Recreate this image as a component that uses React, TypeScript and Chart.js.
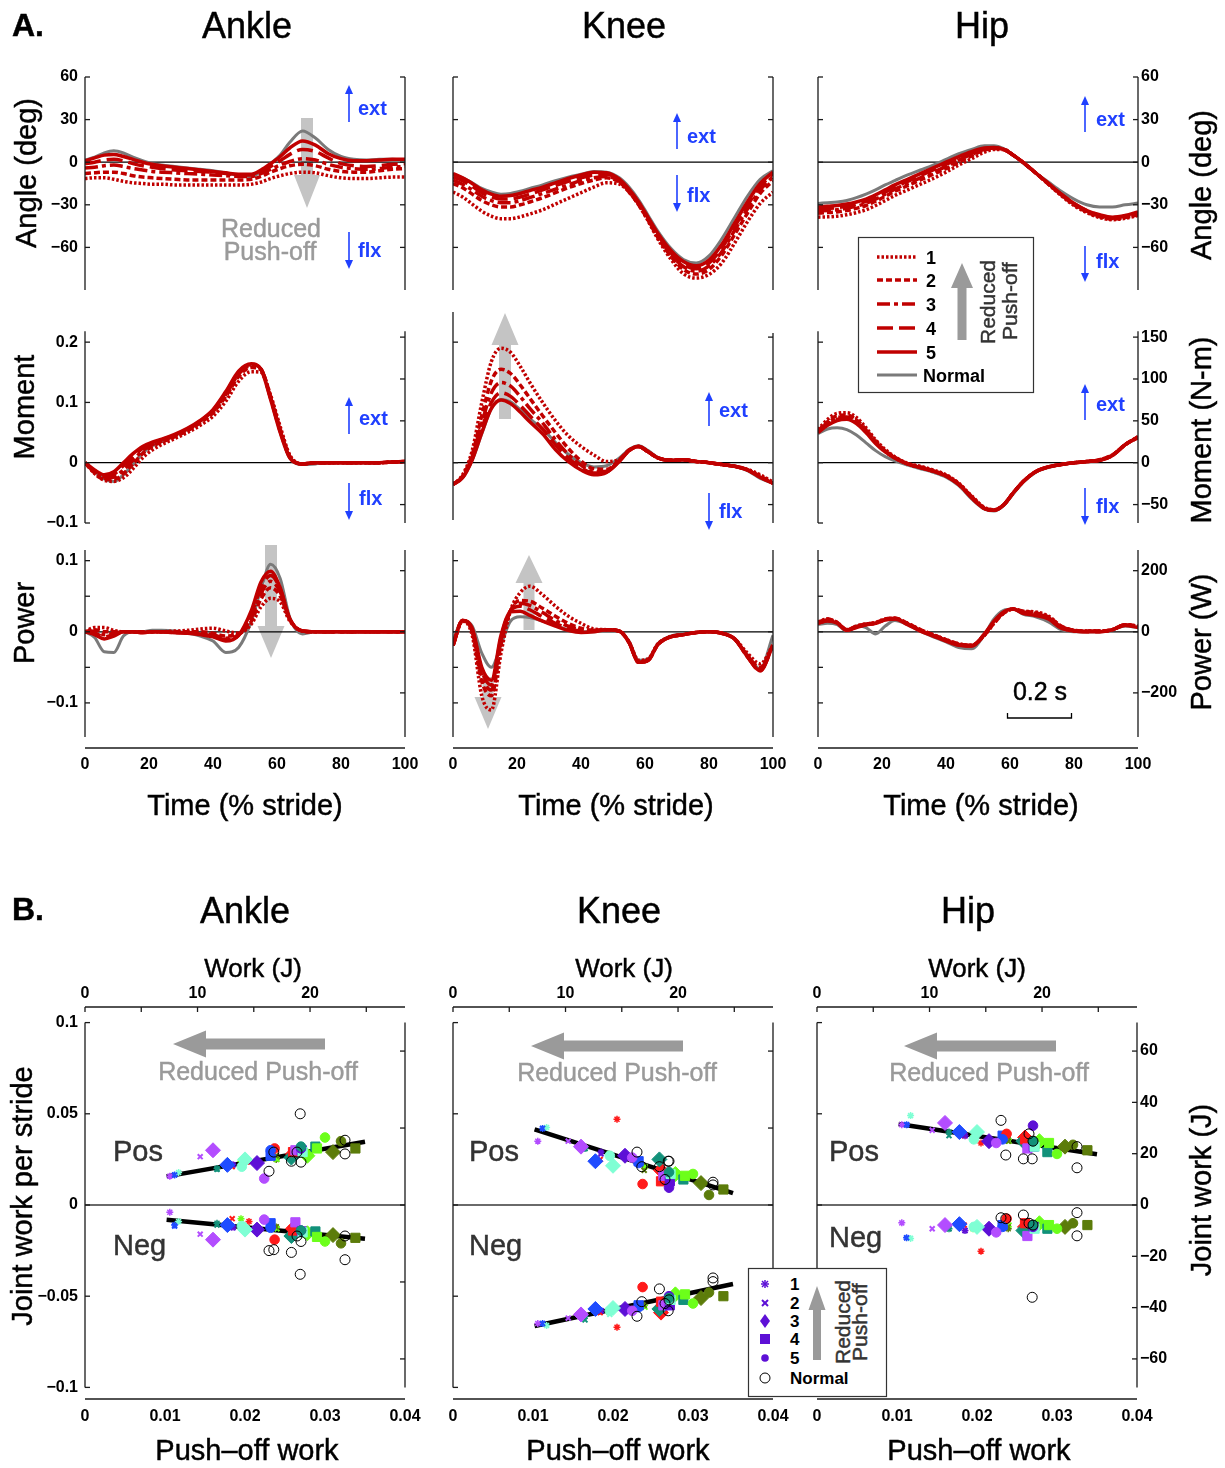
import React, { useEffect, useRef } from "react";
import { Chart, registerables } from "chart.js";

Chart.register(...registerables);

const FONT = '"Liberation Sans", "Helvetica Neue", Arial, sans-serif';
const RED = "#c00000";
const GRAY_LINE = "#7a7a7a";
const BLUE = "#2040ff";
const ARROW_LIGHT = "#c4c4c4";
const ARROW_DARK = "#9a9a9a";

// ---------- Panel A: joint traces over the stride ----------
const TIME = [0, 3, 6, 9, 12, 15, 18, 21, 24, 28, 32, 36, 40, 44, 48, 52, 55, 58, 61, 64, 68, 72, 76, 80, 84, 88, 92, 96, 100];
const TIME_TICKS = [0, 20, 40, 60, 80, 100];

// every table: conditions 1..5, then Normal
const ANKLE_ANGLE = [
  [-11.5, -11, -11, -12, -13.5, -14.5, -15, -15.5, -15.5, -16, -16, -16, -16, -16, -16, -15.5, -14, -11.5, -9.5, -8, -7, -7.5, -9.5, -11, -11.5, -11.5, -11, -10.5, -10.5],
  [-8, -7.5, -7, -7, -8, -9.5, -10.5, -11, -11.5, -12, -12.5, -12.5, -12.5, -12.5, -12.5, -12, -10, -7, -4.5, -2.5, -1.5, -2.5, -5, -6.5, -7, -7, -6, -5, -4.5],
  [-4, -3.5, -2.5, -2, -3, -4.5, -5.5, -6.5, -7, -7.5, -8, -8.5, -9, -9.5, -10, -10, -8, -5, -2, 0.5, 2.5, 1.5, -1.5, -3.5, -4.5, -5, -4.5, -3.5, -3],
  [-1, 0, 1.5, 2, 1, -1, -2.5, -3.5, -4.5, -5.5, -6, -6.5, -7, -8, -9, -9, -6.5, -3, 1, 5.5, 9, 7.5, 3, -1, -2.5, -3, -2.5, -1.5, -1],
  [1, 3, 5, 5.5, 4, 2, 0, -1.5, -2.5, -3.5, -4.5, -5.5, -6.5, -7.5, -8.5, -8.5, -5.5, -1, 4, 10, 15, 12, 6, 2.5, 1, 1, 1.5, 2, 2],
  [1.5, 3.5, 6.5, 8, 6.5, 3.5, 1, -1, -2, -3, -4, -5, -6, -7.5, -9.5, -10, -6.5, -1, 5, 14, 22, 17, 9, 4, 2, 1.5, 2, 2, 1.5],
];
const KNEE_ANGLE = [
  [-21, -24.5, -29.5, -34.5, -38, -39.8, -39.8, -38.5, -36.5, -33.5, -29.5, -25.5, -21.5, -17.5, -14.5, -15.5, -21, -30, -41.5, -54, -68, -78.5, -81.6, -79, -71, -57, -42, -29, -21],
  [-15, -18, -22.5, -27, -30, -31.5, -31.5, -30, -28, -25, -21.5, -18, -15, -12.5, -11, -14, -21, -30, -41, -53, -66, -75.5, -78.8, -75.5, -65.5, -51, -36, -22, -13],
  [-12.7, -15.5, -19.5, -24, -27, -28.5, -28.5, -27, -25, -22, -19, -16, -13, -11, -10, -13.5, -20.5, -29.5, -40.5, -52, -64.5, -73.5, -76.8, -73, -63, -48, -33, -19.5, -10],
  [-10.4, -13, -17, -21.5, -24.5, -26, -25.8, -24.5, -22.5, -19.5, -16.5, -13.5, -11, -9, -8.5, -12.5, -19.5, -28.5, -39.5, -51, -63.5, -72, -75, -71, -60.5, -45.5, -30.5, -17, -8],
  [-8, -11, -15, -19.5, -22.5, -24, -23.5, -22, -20, -17.5, -14.5, -11.5, -9, -7, -7.5, -12, -19, -28, -39, -50, -62, -70, -73, -69, -58, -43, -28, -15, -7],
  [-8.5, -11, -14.5, -18.5, -21, -22.5, -22, -20.5, -18.5, -16, -13, -10.5, -8.5, -6.5, -7, -11, -17.5, -26.5, -37.5, -48.5, -60.5, -68.5, -71, -66, -54, -39, -24, -12, -6],
];
const HIP_ANGLE = [
  [-38.7, -38.5, -38, -37, -35.5, -33.5, -30.5, -27, -23.5, -19.5, -15.5, -11.5, -7, -2, 2.5, 7, 9, 9, 5, 0, -7.5, -15.5, -23.5, -30.5, -35.5, -39, -40.5, -39.5, -37.5],
  [-36, -35.5, -35, -34, -32.5, -30.5, -27.5, -24, -20.5, -16.5, -12.5, -8.5, -4.5, 0, 4.5, 8.5, 9.5, 9, 5, 0, -7.5, -15.5, -23, -30, -35, -38.5, -40, -39, -37],
  [-34.5, -34, -33.5, -32.5, -31, -29, -26, -22.5, -19, -15, -11, -7, -3, 1.5, 5.5, 9, 10, 9, 5, 0, -7.5, -15, -23, -29.5, -34.5, -38, -39.5, -38.5, -36.5],
  [-33, -32.5, -32, -31, -29.5, -27.5, -24.5, -21, -17.5, -13.5, -9.5, -5.5, -1.5, 2.5, 6.5, 9.5, 10, 9, 5, 0, -7.5, -15, -22.5, -29, -34, -37.5, -39, -38, -36],
  [-31.6, -31, -30.5, -29.5, -28, -26, -23, -19.5, -16, -12, -8, -4, 0, 4, 7.5, 10, 10.4, 9, 5, 0, -7.5, -15, -22.5, -29, -34, -37, -38.7, -37.5, -35],
  [-29, -28.5, -28, -27, -25, -22.5, -19.5, -16, -13, -9, -5.5, -2, 2, 6, 9, 11.5, 11.5, 9.5, 5, -0.5, -7.5, -14, -20.5, -26, -30, -31.5, -31.5, -30, -28.8],
];
const ANKLE_MOMENT = [
  [0, -0.018, -0.029, -0.031, -0.025, -0.01, 0.008, 0.021, 0.03, 0.04, 0.05, 0.062, 0.077, 0.102, 0.135, 0.151, 0.15, 0.112, 0.06, 0.013, -0.002, 0, 0, 0, 0, 0, 0, 0.001, 0.002],
  [0, -0.017, -0.028, -0.028, -0.018, -0.002, 0.015, 0.027, 0.034, 0.043, 0.053, 0.066, 0.083, 0.11, 0.143, 0.158, 0.154, 0.11, 0.056, 0.011, -0.002, 0, 0, 0, 0, 0, 0, 0.001, 0.002],
  [0, -0.016, -0.026, -0.024, -0.012, 0.004, 0.02, 0.03, 0.036, 0.045, 0.055, 0.068, 0.085, 0.113, 0.147, 0.161, 0.155, 0.108, 0.054, 0.01, -0.002, 0, 0, 0, 0, 0, 0, 0.001, 0.002],
  [0, -0.014, -0.023, -0.019, -0.005, 0.01, 0.024, 0.032, 0.038, 0.046, 0.056, 0.069, 0.087, 0.116, 0.15, 0.163, 0.155, 0.107, 0.052, 0.009, -0.002, 0, 0, 0, 0, 0, 0, 0.001, 0.002],
  [0, -0.012, -0.02, -0.015, 0, 0.015, 0.027, 0.034, 0.039, 0.047, 0.057, 0.07, 0.088, 0.118, 0.152, 0.164, 0.155, 0.105, 0.05, 0.008, -0.002, 0, 0, 0, 0, 0, 0, 0.001, 0.002],
  [0, -0.014, -0.027, -0.031, -0.02, -0.003, 0.016, 0.028, 0.035, 0.045, 0.055, 0.069, 0.087, 0.116, 0.15, 0.163, 0.156, 0.108, 0.053, 0.008, -0.003, -0.002, 0, 0, 0, 0, 0, 0.001, 0.002],
];
const KNEE_MOMENT = [
  [-0.036, -0.02, 0.02, 0.1, 0.168, 0.19, 0.183, 0.16, 0.133, 0.1, 0.07, 0.045, 0.027, 0.013, 0.002, 0.005, 0.02, 0.027, 0.018, 0.008, 0.004, 0.005, 0.002, 0, -0.003, -0.006, -0.011, -0.02, -0.032],
  [-0.036, -0.022, 0.014, 0.078, 0.136, 0.155, 0.148, 0.129, 0.107, 0.078, 0.05, 0.024, 0.003, -0.01, -0.011, 0.005, 0.021, 0.027, 0.018, 0.008, 0.004, 0.005, 0.002, 0, -0.003, -0.006, -0.012, -0.022, -0.034],
  [-0.036, -0.023, 0.01, 0.066, 0.116, 0.133, 0.127, 0.11, 0.09, 0.066, 0.038, 0.014, -0.004, -0.015, -0.014, 0.004, 0.02, 0.027, 0.018, 0.008, 0.004, 0.005, 0.002, 0, -0.003, -0.006, -0.012, -0.024, -0.034],
  [-0.036, -0.024, 0.007, 0.056, 0.1, 0.116, 0.11, 0.095, 0.078, 0.056, 0.03, 0.008, -0.008, -0.017, -0.015, 0.003, 0.02, 0.027, 0.018, 0.008, 0.004, 0.005, 0.002, 0, -0.003, -0.006, -0.012, -0.024, -0.034],
  [-0.036, -0.025, 0.005, 0.05, 0.09, 0.104, 0.098, 0.084, 0.068, 0.048, 0.022, 0.002, -0.012, -0.02, -0.016, 0.002, 0.02, 0.027, 0.018, 0.008, 0.004, 0.005, 0.002, 0, -0.003, -0.006, -0.012, -0.024, -0.034],
  [-0.036, -0.025, 0.004, 0.048, 0.09, 0.105, 0.101, 0.088, 0.073, 0.056, 0.034, 0.014, 0, -0.007, -0.005, 0.008, 0.022, 0.028, 0.02, 0.009, 0.004, 0.005, 0.002, 0, -0.003, -0.006, -0.013, -0.026, -0.034],
];
const HIP_MOMENT = [
  [0.055, 0.072, 0.082, 0.083, 0.075, 0.058, 0.038, 0.022, 0.01, -0.001, -0.006, -0.012, -0.02, -0.034, -0.055, -0.074, -0.078, -0.07, -0.05, -0.032, -0.015, -0.007, -0.003, 0, 0.002, 0.005, 0.013, 0.03, 0.043],
  [0.053, 0.068, 0.078, 0.079, 0.071, 0.055, 0.036, 0.02, 0.009, -0.002, -0.007, -0.013, -0.021, -0.035, -0.056, -0.075, -0.078, -0.07, -0.05, -0.032, -0.015, -0.007, -0.003, 0, 0.002, 0.005, 0.013, 0.03, 0.043],
  [0.052, 0.066, 0.075, 0.076, 0.069, 0.053, 0.034, 0.019, 0.008, -0.002, -0.008, -0.014, -0.022, -0.036, -0.057, -0.076, -0.079, -0.07, -0.05, -0.032, -0.015, -0.007, -0.003, 0, 0.002, 0.004, 0.012, 0.03, 0.042],
  [0.051, 0.064, 0.072, 0.074, 0.067, 0.051, 0.033, 0.018, 0.008, -0.002, -0.008, -0.014, -0.022, -0.036, -0.058, -0.076, -0.079, -0.07, -0.05, -0.032, -0.015, -0.007, -0.003, 0, 0.002, 0.004, 0.012, 0.03, 0.042],
  [0.05, 0.062, 0.07, 0.072, 0.065, 0.05, 0.032, 0.018, 0.008, -0.002, -0.008, -0.014, -0.022, -0.036, -0.058, -0.076, -0.079, -0.07, -0.05, -0.032, -0.015, -0.007, -0.003, 0, 0.002, 0.004, 0.012, 0.03, 0.042],
  [0.048, 0.056, 0.058, 0.055, 0.046, 0.033, 0.02, 0.01, 0.003, -0.004, -0.01, -0.016, -0.024, -0.038, -0.06, -0.077, -0.08, -0.071, -0.052, -0.033, -0.016, -0.008, -0.003, 0, 0.002, 0.004, 0.012, 0.03, 0.042],
];
const ANKLE_POWER = [
  [0, 0.006, 0.006, 0.002, 0, 0, 0, 0, 0, 0.001, 0.002, 0.004, 0.005, 0.001, -0.002, 0.011, 0.035, 0.047, 0.042, 0.015, 0.001, 0, 0, 0, 0, 0, 0, 0, 0],
  [0, 0.003, 0, 0, 0, 0, 0, 0, 0, 0, 0, 0, -0.002, -0.006, -0.003, 0.015, 0.046, 0.062, 0.05, 0.017, 0.001, 0, 0, 0, 0, 0, 0, 0, 0],
  [0, 0.001, -0.004, -0.002, 0, 0, -0.001, 0, 0, -0.001, -0.001, -0.002, -0.004, -0.009, -0.004, 0.02, 0.054, 0.071, 0.056, 0.018, 0.001, 0, 0, 0, 0, 0, 0, 0, 0],
  [0, -0.002, -0.007, -0.004, 0, 0, -0.001, 0, 0, -0.001, -0.002, -0.003, -0.006, -0.011, -0.005, 0.025, 0.062, 0.079, 0.06, 0.018, 0.001, 0, 0, 0, 0, 0, 0, 0, 0],
  [0, -0.004, -0.01, -0.006, 0, 0, -0.001, 0, 0, -0.001, -0.002, -0.004, -0.007, -0.013, -0.005, 0.03, 0.07, 0.085, 0.062, 0.018, 0.001, 0, 0, 0, 0, 0, 0, 0, 0],
  [0, -0.008, -0.028, -0.029, -0.006, 0, 0, 0.002, 0.002, 0.001, -0.002, -0.006, -0.013, -0.029, -0.022, 0.015, 0.06, 0.095, 0.075, 0.02, -0.003, 0, 0, 0, 0, 0, 0, 0, 0],
];
const KNEE_POWER = [
  [-0.019, 0.015, -0.005, -0.09, -0.11, -0.03, 0.03, 0.055, 0.064, 0.052, 0.036, 0.022, 0.012, 0.004, 0.003, 0.001, -0.014, -0.04, -0.038, -0.017, -0.007, -0.004, -0.001, 0, -0.002, -0.01, -0.03, -0.045, -0.019],
  [-0.019, 0.016, 0, -0.07, -0.09, -0.018, 0.03, 0.044, 0.043, 0.033, 0.022, 0.012, 0.005, 0.002, 0.003, 0.001, -0.015, -0.042, -0.04, -0.018, -0.007, -0.004, -0.001, 0, -0.002, -0.01, -0.033, -0.05, -0.019],
  [-0.019, 0.016, 0.002, -0.062, -0.082, -0.012, 0.03, 0.04, 0.037, 0.027, 0.016, 0.008, 0.003, 0.002, 0.003, 0.001, -0.015, -0.043, -0.04, -0.018, -0.007, -0.004, -0.001, 0, -0.002, -0.01, -0.035, -0.053, -0.019],
  [-0.019, 0.016, 0.003, -0.055, -0.075, -0.008, 0.03, 0.036, 0.031, 0.021, 0.012, 0.005, 0.001, 0.001, 0.003, 0.001, -0.015, -0.043, -0.04, -0.018, -0.007, -0.004, -0.001, 0, -0.002, -0.01, -0.035, -0.055, -0.019],
  [-0.019, 0.016, 0.005, -0.05, -0.068, -0.005, 0.028, 0.029, 0.023, 0.015, 0.008, 0.002, -0.001, 0, 0.003, 0.001, -0.015, -0.043, -0.04, -0.018, -0.007, -0.004, -0.001, 0, -0.002, -0.01, -0.035, -0.055, -0.019],
  [-0.012, 0.016, 0.008, -0.03, -0.05, -0.018, 0.015, 0.021, 0.02, 0.015, 0.009, 0.003, 0, 0, 0.003, 0.001, -0.013, -0.04, -0.038, -0.017, -0.006, -0.003, -0.001, 0, -0.002, -0.01, -0.033, -0.052, -0.005],
];
const HIP_POWER = [
  [0.014, 0.018, 0.013, 0.003, 0.008, 0.011, 0.013, 0.018, 0.019, 0.012, 0.003, -0.004, -0.011, -0.017, -0.019, -0.005, 0.012, 0.026, 0.032, 0.029, 0.028, 0.022, 0.008, 0.002, 0.001, 0.001, 0.003, 0.01, 0.008],
  [0.013, 0.018, 0.013, 0.003, 0.008, 0.011, 0.013, 0.018, 0.019, 0.012, 0.003, -0.004, -0.011, -0.017, -0.019, -0.005, 0.012, 0.026, 0.032, 0.029, 0.027, 0.021, 0.008, 0.002, 0.001, 0.001, 0.003, 0.01, 0.008],
  [0.013, 0.017, 0.013, 0.003, 0.007, 0.011, 0.012, 0.017, 0.019, 0.011, 0.002, -0.005, -0.012, -0.018, -0.019, -0.004, 0.013, 0.027, 0.032, 0.028, 0.026, 0.02, 0.007, 0.002, 0.001, 0.001, 0.003, 0.01, 0.007],
  [0.012, 0.016, 0.012, 0.002, 0.007, 0.01, 0.012, 0.017, 0.018, 0.011, 0.002, -0.005, -0.012, -0.018, -0.02, -0.004, 0.014, 0.027, 0.032, 0.027, 0.025, 0.019, 0.006, 0.001, 0, 0, 0.003, 0.01, 0.007],
  [0.012, 0.015, 0.012, 0.002, 0.006, 0.01, 0.012, 0.017, 0.018, 0.01, 0.001, -0.006, -0.013, -0.019, -0.02, -0.003, 0.015, 0.028, 0.032, 0.026, 0.023, 0.018, 0.005, 0.001, 0, 0, 0.003, 0.009, 0.006],
  [0.01, 0.012, 0.01, 0.001, 0.008, 0.006, -0.003, 0.008, 0.016, 0.01, 0.001, -0.007, -0.014, -0.022, -0.024, -0.004, 0.018, 0.03, 0.032, 0.025, 0.021, 0.014, 0.003, 0, 0, 0, 0.003, 0.008, 0.006],
];

const ANGLE_TICKS = [-60, -30, 0, 30, 60];
const MOMENT_TICKS = [-0.1, 0, 0.1, 0.2];
const MOMENT_TICKS_NM = [-50, 0, 50, 100, 150];
const POWER_TICKS = [-0.1, -0.05, 0, 0.05, 0.1];
const POWER_LABELED = [-0.1, 0, 0.1];
const POWER_TICKS_W = [-200, 0, 200];

// ---------- Panel B: joint work vs push-off work ----------
const SUBJECT_COLORS = ["#ff1a1a", "#1f4cff", "#b34dff", "#5d10d6", "#7fffd4", "#12917a", "#6cff1a", "#5c7c0a"];
// push-off work per condition (rows 1..5), one entry per subject
const PUSHOFF_WORK = [
  [0.0205, 0.0112, 0.0106, 0.0185, 0.0117, 0.0165, 0.0195, 0.0239],
  [0.0184, 0.0112, 0.0144, 0.0185, 0.0196, 0.0165, 0.024, 0.0239],
  [0.026, 0.0178, 0.016, 0.0215, 0.02, 0.0258, 0.0278, 0.031],
  [0.026, 0.0232, 0.0263, 0.0271, 0.0272, 0.0288, 0.029, 0.0338],
  [0.0237, 0.0232, 0.0224, 0.027, 0.0196, 0.027, 0.03, 0.032],
];
const NORMAL_PUSHOFF = [0.023, 0.0236, 0.0258, 0.0265, 0.0269, 0.027, 0.0325, 0.0325];

const ANKLE_WORK_POS = [
  [0.024, 0.0165, 0.0158, 0.022, 0.0178, 0.02, 0.024, 0.025],
  [0.021, 0.0165, 0.0265, 0.022, 0.024, 0.0195, 0.025, 0.027],
  [0.028, 0.022, 0.03, 0.023, 0.025, 0.026, 0.027, 0.029],
  [0.029, 0.027, 0.03, 0.03, 0.029, 0.032, 0.031, 0.031],
  [0.031, 0.03, 0.0145, 0.031, 0.021, 0.032, 0.037, 0.035],
];
const ANKLE_WORK_NEG = [
  [-0.009, -0.011, -0.004, -0.012, -0.009, -0.01, -0.0075, -0.012],
  [-0.0075, -0.0115, -0.016, -0.0125, -0.012, -0.011, -0.013, -0.012],
  [-0.013, -0.011, -0.019, -0.0135, -0.0135, -0.017, -0.0155, -0.0165],
  [-0.014, -0.01, -0.0095, -0.0145, -0.015, -0.0145, -0.0175, -0.018],
  [-0.019, -0.0125, -0.008, -0.014, -0.0115, -0.014, -0.02, -0.021],
];
const ANKLE_NORMAL_POS = [0.0185, 0.029, 0.024, 0.029, 0.05, 0.0235, 0.0355, 0.028];
const ANKLE_NORMAL_NEG = [-0.025, -0.0245, -0.026, -0.017, -0.038, -0.02, -0.017, -0.03];

const KNEE_WORK_POS = [
  [0.047, 0.042, 0.035, 0.029, 0.0425, 0.031, 0.028, 0.021],
  [0.025, 0.042, 0.035, 0.028, 0.026, 0.031, 0.021, 0.019],
  [0.019, 0.024, 0.032, 0.027, 0.0215, 0.025, 0.017, 0.012],
  [0.013, 0.024, 0.016, 0.013, 0.017, 0.014, 0.016, 0.0085],
  [0.0115, 0.023, 0.026, 0.0095, 0.027, 0.018, 0.017, 0.0055],
];
const KNEE_WORK_NEG = [
  [-0.067, -0.065, -0.065, -0.058, -0.066, -0.061, -0.059, -0.055],
  [-0.059, -0.065, -0.062, -0.058, -0.06, -0.063, -0.056, -0.055],
  [-0.059, -0.057, -0.06, -0.057, -0.0565, -0.057, -0.049, -0.051],
  [-0.053, -0.055, -0.055, -0.055, -0.052, -0.052, -0.049, -0.05],
  [-0.045, -0.056, -0.058, -0.05, -0.058, -0.051, -0.054, -0.048],
];
const KNEE_NORMAL_POS = [0.029, 0.021, 0.021, 0.014, 0.024, 0.024, 0.0125, 0.011];
const KNEE_NORMAL_NEG = [-0.061, -0.053, -0.046, -0.054, -0.058, -0.052, -0.04, -0.042];

const HIP_WORK_POS = [
  [0.034, 0.044, 0.044, 0.038, 0.049, 0.04, 0.037, 0.036],
  [0.038, 0.044, 0.041, 0.038, 0.039, 0.038, 0.035, 0.035],
  [0.037, 0.04, 0.045, 0.035, 0.04, 0.035, 0.035, 0.032],
  [0.036, 0.038, 0.031, 0.032, 0.032, 0.029, 0.034, 0.03],
  [0.039, 0.036, 0.034, 0.0435, 0.036, 0.035, 0.028, 0.033],
];
const HIP_WORK_NEG = [
  [-0.0253, -0.018, -0.0098, -0.014, -0.0183, -0.013, -0.013, -0.013],
  [-0.011, -0.018, -0.013, -0.014, -0.013, -0.013, -0.011, -0.012],
  [-0.012, -0.0105, -0.011, -0.013, -0.012, -0.014, -0.01, -0.012],
  [-0.01, -0.011, -0.017, -0.012, -0.013, -0.013, -0.011, -0.011],
  [-0.0075, -0.012, -0.015, -0.012, -0.012, -0.011, -0.013, -0.01],
];
const HIP_NORMAL_POS = [0.0464, 0.0274, 0.0253, 0.039, 0.0253, 0.035, 0.032, 0.0204];
const HIP_NORMAL_NEG = [-0.007, -0.0075, -0.0055, -0.01, -0.0506, -0.011, -0.0042, -0.0169];

// least-squares fits, evaluated at the two ends of the push-off range
const FIT_X = [0.0102, 0.035];
const ANKLE_FIT_POS = [0.0157, 0.0347];
const ANKLE_FIT_NEG = [-0.0081, -0.0185];
const KNEE_FIT_POS = [0.0415, 0.0065];
const KNEE_FIT_NEG = [-0.0663, -0.0433];
const HIP_FIT_POS = [0.0444, 0.0278];

const PUSHOFF_TICKS = [0, 0.01, 0.02, 0.03, 0.04];
const WORK_TICKS = [-0.1, -0.05, 0, 0.05, 0.1];
const WORK_TICKS_J = [-60, -40, -20, 0, 20, 40, 60];
const WORK_TICKS_J_COARSE = [-60, -30, 0, 30, 60];
const WORK_TOP_TICKS = [0, 5, 10, 15, 20, 25];
const WORK_TOP_LABELED = [0, 10, 20];
const JOULES_PER_UNIT = 711;

// ---------- styling ----------
const SERIES_STYLE = [
  { color: RED, width: 3.5, dash: [2.5, 2], order: 1 },
  { color: RED, width: 3.5, dash: [6, 3], order: 2 },
  { color: RED, width: 3.5, dash: [13, 4, 4, 4], order: 3 },
  { color: RED, width: 3.5, dash: [16, 6], order: 4 },
  { color: RED, width: 3.5, dash: [], order: 5 },
  { color: GRAY_LINE, width: 3, dash: [], order: 10 },
];
const MARKERS = [
  { style: "star", radius: 3.5, border: 1.5 },
  { style: "crossRot", radius: 3.5, border: 2 },
  { style: "rectRot", radius: 7.5, border: 1 },
  { style: "rect", radius: 6.5, border: 1 },
  { style: "circle", radius: 4.8, border: 1 },
];

const fmt = (v: number) => (v < 0 ? "\u2212" + String(Math.abs(v)) : String(v));
const TICK_FONT = { family: FONT, size: 16, weight: "bold" as const };

// axis frame: partial spines, inward ticks, zero line
const framePlugin = {
  id: "frame",
  beforeDatasetsDraw(chart: any, _a: any, o: any) {
    const { ctx, chartArea: a, scales } = chart;
    const y0 = scales.y.getPixelForValue(0);
    ctx.save();
    ctx.strokeStyle = o.zeroColor;
    ctx.lineWidth = o.zeroWidth;
    ctx.beginPath();
    ctx.moveTo(a.left, y0);
    ctx.lineTo(a.right, y0);
    ctx.stroke();
    ctx.restore();
  },
  afterDatasetsDraw(chart: any, _a: any, o: any) {
    const { ctx, chartArea: a, scales } = chart;
    const y = scales.y;
    const y2 = scales.y2;
    const L = a.left;
    const R = a.right;
    ctx.save();
    ctx.strokeStyle = "#1a1a1a";
    ctx.lineWidth = 1.3;
    const seg = (x1: number, p1: number, x2: number, p2: number) => {
      ctx.beginPath();
      ctx.moveTo(x1, p1);
      ctx.lineTo(x2, p2);
      ctx.stroke();
    };
    const lt = y.getPixelForValue(o.span[0]);
    const lb = y.getPixelForValue(o.span[1]);
    const rt = y.getPixelForValue(o.span[2]);
    const rb = y.getPixelForValue(o.span[3]);
    seg(L, lt, L, lb);
    seg(R, rt, R, rb);
    for (const t of y.ticks) {
      const p = y.getPixelForValue(t.value);
      if (p >= lt - 1 && p <= lb + 1) seg(L, p, L + 5, p);
    }
    for (const t of y2.ticks) {
      const p = y2.getPixelForValue(t.value);
      if (p >= rt - 1 && p <= rb + 1) seg(R - 5, p, R, p);
    }
    if (o.bottomLine) seg(L, a.bottom, R, a.bottom);
    if (o.topLine) {
      seg(L, a.top, R, a.top);
      for (const t of scales.x2.ticks) {
        const p = scales.x2.getPixelForValue(t.value);
        seg(p, a.top, p, a.top + 5);
      }
    }
    ctx.restore();
  },
};

function yScale(position: string, min: number, max: number, ticks: number[], labeled: number[], show: boolean, padding: number) {
  return {
    type: "linear",
    axis: "y",
    position,
    min,
    max,
    grid: { display: false, drawTicks: false },
    border: { display: false },
    ticks: {
      display: show,
      autoSkip: false,
      padding,
      color: "#000",
      font: TICK_FONT,
      callback: (v: number) => (labeled.includes(v) ? fmt(v) : ""),
    },
    afterBuildTicks: (s: any) => {
      s.ticks = ticks.map((v) => ({ value: v }));
    },
    afterFit: (s: any) => {
      s.width = 70;
      s.paddingTop = 0;
      s.paddingBottom = 0;
    },
  };
}

function xScale(position: string, min: number, max: number, ticks: number[], labeled: number[], show: boolean, padding: number) {
  return {
    type: "linear",
    axis: "x",
    position,
    min,
    max,
    display: show,
    grid: { display: false, drawTicks: false },
    border: { display: false },
    ticks: {
      autoSkip: false,
      maxRotation: 0,
      padding,
      color: "#000",
      font: TICK_FONT,
      callback: (v: number) => (labeled.includes(v) ? fmt(v) : ""),
    },
    afterBuildTicks: (s: any) => {
      s.ticks = ticks.map((v) => ({ value: v }));
    },
    afterFit: (s: any) => {
      s.height = show ? 40 : 0;
      s.paddingLeft = 0;
      s.paddingRight = 0;
    },
  };
}

// ---------- layout of panel A ----------
const COL_LEFT_A = [85, 453, 818];
const COL_LEFT_B = [85, 453, 817];
const PLOT_W = 320;
const A_ROWS = [
  { top: 77, height: 213, min: -90, max: 60, ticks: ANGLE_TICKS, labeled: ANGLE_TICKS, rTicks: ANGLE_TICKS, factor: 1, showX: false },
  { top: 312, height: 211, min: -0.1, max: 0.25, ticks: MOMENT_TICKS, labeled: MOMENT_TICKS, rTicks: MOMENT_TICKS_NM, factor: 720, showX: false },
  { top: 550, height: 198, min: -0.1634, max: 0.115, ticks: POWER_TICKS, labeled: POWER_LABELED, rTicks: POWER_TICKS_W, factor: 2328, showX: true },
];
const A_SPANS = [
  [[60, -90, 60, -90], [60, -90, 60, -90], [60, -90, 60, -90]],
  [[0.218, -0.1, 0.218, -0.1], [0.25, -0.095, 0.215, -0.1], [0.218, -0.1, 0.218, -0.1]],
  [[0.115, -0.148, 0.115, -0.148], [0.115, -0.148, 0.115, -0.148], [0.115, -0.148, 0.115, -0.148]],
];
const TRACES = [
  [ANKLE_ANGLE, KNEE_ANGLE, HIP_ANGLE],
  [ANKLE_MOMENT, KNEE_MOMENT, HIP_MOMENT],
  [ANKLE_POWER, KNEE_POWER, HIP_POWER],
];

function traceConfig(row: number, col: number) {
  const r = A_ROWS[row];
  const series = TRACES[row][col];
  return {
    type: "line",
    data: {
      datasets: series.map((vals, k) => ({
        data: vals.map((v, i) => ({ x: TIME[i], y: v })),
        borderColor: SERIES_STYLE[k].color,
        borderWidth: SERIES_STYLE[k].width,
        borderDash: SERIES_STYLE[k].dash,
        borderCapStyle: "butt",
        pointRadius: 0,
        cubicInterpolationMode: "monotone",
        fill: false,
        order: SERIES_STYLE[k].order,
      })),
    },
    options: {
      animation: false,
      responsive: false,
      events: [],
      layout: { padding: { top: 40, bottom: r.showX ? 0 : 40, left: 0, right: 0 } },
      plugins: {
        legend: { display: false },
        tooltip: { enabled: false },
        frame: { span: A_SPANS[row][col], zeroColor: "#000", zeroWidth: 1.3, bottomLine: r.showX, topLine: false },
      },
      scales: {
        x: xScale("bottom", 0, 100, TIME_TICKS, TIME_TICKS, r.showX, 7),
        y: yScale("left", r.min, r.max, r.ticks, r.labeled, col === 0, 7),
        y2: yScale("right", r.min * r.factor, r.max * r.factor, r.rTicks, r.rTicks, col === 2, 3),
      },
    },
    plugins: [framePlugin],
  };
}

// ---------- layout of panel B ----------
const B_TOP = 1007;
const B_HEIGHT = 392;
const B_Y_MIN = -0.10636;
const B_Y_MAX = 0.10855;
const WORK_GROUPS = [
  { pos: ANKLE_WORK_POS, neg: ANKLE_WORK_NEG, nPos: ANKLE_NORMAL_POS, nNeg: ANKLE_NORMAL_NEG, fits: [ANKLE_FIT_POS, ANKLE_FIT_NEG], rTicks: WORK_TICKS_J_COARSE },
  { pos: KNEE_WORK_POS, neg: KNEE_WORK_NEG, nPos: KNEE_NORMAL_POS, nNeg: KNEE_NORMAL_NEG, fits: [KNEE_FIT_POS, KNEE_FIT_NEG], rTicks: WORK_TICKS_J_COARSE },
  { pos: HIP_WORK_POS, neg: HIP_WORK_NEG, nPos: HIP_NORMAL_POS, nNeg: HIP_NORMAL_NEG, fits: [HIP_FIT_POS], rTicks: WORK_TICKS_J },
];

function workConfig(col: number) {
  const g = WORK_GROUPS[col];
  const datasets: any[] = [];
  g.fits.forEach((fit) =>
    datasets.push({
      data: FIT_X.map((x, i) => ({ x, y: fit[i] })),
      showLine: true,
      borderColor: "#000",
      borderWidth: 4.5,
      pointRadius: 0,
      order: 30,
    })
  );
  for (let c = 0; c < 5; c++) {
    for (const table of [g.pos, g.neg]) {
      datasets.push({
        data: PUSHOFF_WORK[c].map((x, i) => ({ x, y: table[c][i] })),
        showLine: false,
        pointStyle: MARKERS[c].style,
        pointRadius: MARKERS[c].radius,
        pointBorderWidth: MARKERS[c].border,
        pointBackgroundColor: SUBJECT_COLORS,
        pointBorderColor: SUBJECT_COLORS,
        order: 20 - c,
      });
    }
  }
  for (const vals of [g.nPos, g.nNeg]) {
    datasets.push({
      data: NORMAL_PUSHOFF.map((x, i) => ({ x, y: vals[i] })),
      showLine: false,
      pointStyle: "circle",
      pointRadius: 5,
      pointBorderWidth: 1,
      pointBackgroundColor: "rgba(0,0,0,0)",
      pointBorderColor: "#000",
      order: 1,
    });
  }
  return {
    type: "scatter",
    data: { datasets },
    options: {
      animation: false,
      responsive: false,
      events: [],
      layout: { padding: 0 },
      plugins: {
        legend: { display: false },
        tooltip: { enabled: false },
        frame: { span: [0.1, -0.1, 0.1, -0.1], zeroColor: "#6a6a6a", zeroWidth: 2, bottomLine: true, topLine: true },
      },
      scales: {
        x: xScale("bottom", 0, 0.04, PUSHOFF_TICKS, PUSHOFF_TICKS, true, 8),
        x2: xScale("top", 0, 0.04 * JOULES_PER_UNIT, WORK_TOP_TICKS, WORK_TOP_LABELED, true, 4),
        y: yScale("left", B_Y_MIN, B_Y_MAX, WORK_TICKS, WORK_TICKS, col === 0, 7),
        y2: yScale("right", B_Y_MIN * JOULES_PER_UNIT, B_Y_MAX * JOULES_PER_UNIT, g.rTicks, g.rTicks, col === 2, 3),
      },
    },
    plugins: [framePlugin],
  };
}

const PANELS: any[] = [];
for (let row = 0; row < 3; row++) {
  for (let col = 0; col < 3; col++) {
    PANELS.push({
      key: `a${row}${col}`,
      x: COL_LEFT_A[col] - 70,
      y: A_ROWS[row].top - 40,
      w: PLOT_W + 140,
      h: A_ROWS[row].height + 80,
      build: () => traceConfig(row, col),
    });
  }
}
for (let col = 0; col < 3; col++) {
  PANELS.push({
    key: `b${col}`,
    x: COL_LEFT_B[col] - 70,
    y: B_TOP - 40,
    w: PLOT_W + 140,
    h: B_HEIGHT + 80,
    build: () => workConfig(col),
  });
}

function ChartCanvas({ x, y, w, h, build }: any) {
  const ref = useRef<HTMLCanvasElement | null>(null);
  useEffect(() => {
    const chart = new Chart(ref.current as HTMLCanvasElement, build());
    return () => chart.destroy();
  }, [build]);
  return <canvas ref={ref} width={w} height={h} style={{ position: "absolute", left: x, top: y, width: w, height: h }} />;
}

function fatArrow(x1: number, y1: number, x2: number, y2: number, shaft: number, headW: number, headL: number) {
  const len = Math.hypot(x2 - x1, y2 - y1);
  const ux = (x2 - x1) / len;
  const uy = (y2 - y1) / len;
  const px = -uy;
  const py = ux;
  const bx = x2 - ux * headL;
  const by = y2 - uy * headL;
  const pts = [
    [x1 + (px * shaft) / 2, y1 + (py * shaft) / 2],
    [bx + (px * shaft) / 2, by + (py * shaft) / 2],
    [bx + (px * headW) / 2, by + (py * headW) / 2],
    [x2, y2],
    [bx - (px * headW) / 2, by - (py * headW) / 2],
    [bx - (px * shaft) / 2, by - (py * shaft) / 2],
    [x1 - (px * shaft) / 2, y1 - (py * shaft) / 2],
  ];
  return pts.map((p) => p.map((n) => n.toFixed(1)).join(",")).join(" ");
}

function BlueArrow({ x, y1, y2 }: any) {
  const dir = y2 < y1 ? -1 : 1;
  return (
    <g>
      <line x1={x} y1={y1} x2={x} y2={y2 - dir * 8} stroke={BLUE} strokeWidth={1.6} />
      <polygon points={`${x - 4},${y2 - dir * 9} ${x + 4},${y2 - dir * 9} ${x},${y2}`} fill={BLUE} />
    </g>
  );
}

const BLUE_LABELS = [
  { x: 358, y: 115, t: "ext", ax: 349, a1: 122, a2: 85 },
  { x: 358, y: 257, t: "flx", ax: 349, a1: 232, a2: 269 },
  { x: 687, y: 143, t: "ext", ax: 677, a1: 149, a2: 113 },
  { x: 687, y: 202, t: "flx", ax: 677, a1: 175, a2: 212 },
  { x: 1096, y: 126, t: "ext", ax: 1085, a1: 132, a2: 96 },
  { x: 1096, y: 268, t: "flx", ax: 1085, a1: 246, a2: 282 },
  { x: 359, y: 425, t: "ext", ax: 349, a1: 434, a2: 397 },
  { x: 359, y: 505, t: "flx", ax: 349, a1: 483, a2: 520 },
  { x: 719, y: 417, t: "ext", ax: 709, a1: 426, a2: 392 },
  { x: 719, y: 518, t: "flx", ax: 709, a1: 493, a2: 530 },
  { x: 1096, y: 411, t: "ext", ax: 1085, a1: 420, a2: 384 },
  { x: 1096, y: 513, t: "flx", ax: 1085, a1: 488, a2: 525 },
];

const LEGEND_A_Y = [257, 280, 304, 328, 352, 375];
const LEGEND_A_LABELS = ["1", "2", "3", "4", "5", "Normal"];
const LEGEND_B_Y = [1284, 1303, 1321, 1339, 1358, 1378];
const VIOLET = "#5d10d6";

function LegendMarker({ k, cx, cy }: any) {
  if (k === 0)
    return (
      <g stroke={VIOLET} strokeWidth={1.5}>
        <line x1={cx - 4} y1={cy} x2={cx + 4} y2={cy} />
        <line x1={cx} y1={cy - 4} x2={cx} y2={cy + 4} />
        <line x1={cx - 3} y1={cy - 3} x2={cx + 3} y2={cy + 3} />
        <line x1={cx - 3} y1={cy + 3} x2={cx + 3} y2={cy - 3} />
      </g>
    );
  if (k === 1)
    return (
      <g stroke={VIOLET} strokeWidth={2}>
        <line x1={cx - 3} y1={cy - 3} x2={cx + 3} y2={cy + 3} />
        <line x1={cx - 3} y1={cy + 3} x2={cx + 3} y2={cy - 3} />
      </g>
    );
  if (k === 2) return <polygon points={`${cx},${cy - 7} ${cx + 5},${cy} ${cx},${cy + 7} ${cx - 5},${cy}`} fill={VIOLET} />;
  if (k === 3) return <rect x={cx - 5} y={cy - 5} width={10} height={10} fill={VIOLET} />;
  if (k === 4) return <circle cx={cx} cy={cy} r={3.8} fill={VIOLET} />;
  return <circle cx={cx} cy={cy} r={5} fill="none" stroke="#000" strokeWidth={1} />;
}

export default function App() {
  const txt = { fontFamily: FONT };
  const heavy = (c: string) => ({ fill: c, stroke: c, strokeWidth: 0.45 });
  return (
    <div style={{ position: "absolute", left: 0, top: 0, width: 1225, height: 1468, background: "#fff", overflow: "hidden" }}>
      {/* gray trend arrows sit beneath the traces */}
      <svg width={1225} height={1468} style={{ position: "absolute", left: 0, top: 0 }}>
        <polygon points={fatArrow(307, 118, 307, 208, 12, 26, 33)} fill={ARROW_LIGHT} />
        <polygon points={fatArrow(505, 419, 505, 313, 12, 27, 32)} fill={ARROW_LIGHT} />
        <polygon points={fatArrow(271, 545, 271, 658, 12, 27, 32)} fill={ARROW_LIGHT} />
        <polygon points={fatArrow(529, 630, 529, 555, 11, 27, 28)} fill={ARROW_LIGHT} />
        <polygon points={fatArrow(488, 677, 488, 729, 11, 27, 32)} fill={ARROW_LIGHT} />
      </svg>

      {PANELS.map((p) => (
        <ChartCanvas key={p.key} x={p.x} y={p.y} w={p.w} h={p.h} build={p.build} />
      ))}

      <svg width={1225} height={1468} style={{ position: "absolute", left: 0, top: 0 }}>
        <g {...txt} {...heavy("#000")}>
          <text x={12} y={36} fontSize={32} fontWeight="bold">A.</text>
          <text x={12} y={920} fontSize={32} fontWeight="bold">B.</text>
          <text x={247} y={38} fontSize={36} textAnchor="middle">Ankle</text>
          <text x={624} y={38} fontSize={36} textAnchor="middle">Knee</text>
          <text x={982} y={38} fontSize={36} textAnchor="middle">Hip</text>
          <text x={245} y={923} fontSize={36} textAnchor="middle">Ankle</text>
          <text x={619} y={923} fontSize={36} textAnchor="middle">Knee</text>
          <text x={968} y={923} fontSize={36} textAnchor="middle">Hip</text>

          <text transform="translate(26,173) rotate(-90)" fontSize={29} textAnchor="middle" dominantBaseline="central">Angle (deg)</text>
          <text transform="translate(24,407) rotate(-90)" fontSize={29} textAnchor="middle" dominantBaseline="central">Moment</text>
          <text transform="translate(24,623) rotate(-90)" fontSize={29} textAnchor="middle" dominantBaseline="central">Power</text>
          <text transform="translate(1201,185) rotate(-90)" fontSize={29} textAnchor="middle" dominantBaseline="central">Angle (deg)</text>
          <text transform="translate(1201,430) rotate(-90)" fontSize={29} textAnchor="middle" dominantBaseline="central">Moment (N-m)</text>
          <text transform="translate(1201,642) rotate(-90)" fontSize={29} textAnchor="middle" dominantBaseline="central">Power (W)</text>
          <text transform="translate(22,1196) rotate(-90)" fontSize={29} textAnchor="middle" dominantBaseline="central">Joint work per stride</text>
          <text transform="translate(1201,1190) rotate(-90)" fontSize={29} textAnchor="middle" dominantBaseline="central">Joint work (J)</text>

          <text x={245} y={815} fontSize={29} textAnchor="middle">Time (% stride)</text>
          <text x={616} y={815} fontSize={29} textAnchor="middle">Time (% stride)</text>
          <text x={981} y={815} fontSize={29} textAnchor="middle">Time (% stride)</text>
          <text x={247} y={1460} fontSize={29} textAnchor="middle">Push{"\u2013"}off work</text>
          <text x={618} y={1460} fontSize={29} textAnchor="middle">Push{"\u2013"}off work</text>
          <text x={979} y={1460} fontSize={29} textAnchor="middle">Push{"\u2013"}off work</text>
          <text x={253} y={977} fontSize={26} textAnchor="middle">Work (J)</text>
          <text x={624} y={977} fontSize={26} textAnchor="middle">Work (J)</text>
          <text x={977} y={977} fontSize={26} textAnchor="middle">Work (J)</text>
        </g>

        <g {...txt} {...heavy("#333")} fontSize={29}>
          <text x={113} y={1161}>Pos</text>
          <text x={113} y={1255}>Neg</text>
          <text x={469} y={1161}>Pos</text>
          <text x={469} y={1255}>Neg</text>
          <text x={829} y={1161}>Pos</text>
          <text x={829} y={1247}>Neg</text>
        </g>

        <g {...txt} {...heavy(ARROW_DARK)} fontSize={25} textAnchor="middle">
          <text x={258} y={1080}>Reduced Push-off</text>
          <text x={617} y={1081}>Reduced Push-off</text>
          <text x={989} y={1081}>Reduced Push-off</text>
          <text x={271} y={237}>Reduced</text>
          <text x={270} y={260}>Push-off</text>
        </g>
        <polygon points={fatArrow(325, 1044, 173, 1044, 11, 27, 33)} fill={ARROW_DARK} />
        <polygon points={fatArrow(683, 1046, 531, 1046, 11, 27, 33)} fill={ARROW_DARK} />
        <polygon points={fatArrow(1056, 1046, 904, 1046, 11, 27, 33)} fill={ARROW_DARK} />

        {BLUE_LABELS.map((b, i) => (
          <g key={i}>
            <BlueArrow x={b.ax} y1={b.a1} y2={b.a2} />
            <text x={b.x} y={b.y} fontFamily={FONT} fontSize={20} fontWeight="bold" fill={BLUE}>{b.t}</text>
          </g>
        ))}

        {/* time scale bar */}
        <text x={1040} y={700} fontFamily={FONT} fontSize={25} textAnchor="middle" {...heavy("#000")}>0.2 s</text>
        <path d="M1007.5 713 L1007.5 718 L1071.5 718 L1071.5 713" fill="none" stroke="#000" strokeWidth={1.3} />

        {/* legend for the traces */}
        <rect x={858.5} y={237.5} width={175} height={155} fill="#fff" stroke="#333" strokeWidth={1.2} />
        {LEGEND_A_Y.map((yy, k) => (
          <g key={k}>
            <line x1={877} x2={917} y1={yy} y2={yy} stroke={SERIES_STYLE[k].color} strokeWidth={SERIES_STYLE[k].width}
              strokeDasharray={SERIES_STYLE[k].dash.length ? SERIES_STYLE[k].dash.join(" ") : undefined} />
            <text x={k < 5 ? 926 : 923} y={yy + 7} fontFamily={FONT} fontSize={18} fontWeight="bold">{LEGEND_A_LABELS[k]}</text>
          </g>
        ))}
        <polygon points={fatArrow(962, 340, 962, 263, 9, 22, 25)} fill={ARROW_DARK} />
        <g {...txt} {...heavy("#333")} fontSize={21} textAnchor="middle" dominantBaseline="central">
          <text transform="translate(987,302) rotate(-90)">Reduced</text>
          <text transform="translate(1009,301) rotate(-90)">Push-off</text>
        </g>

        {/* legend for the work markers */}
        <rect x={748.5} y={1268.5} width={138} height={128} fill="#fff" stroke="#333" strokeWidth={1.2} />
        {LEGEND_B_Y.map((yy, k) => (
          <g key={k}>
            <LegendMarker k={k} cx={765} cy={yy} />
            <text x={790} y={yy + 6} fontFamily={FONT} fontSize={17} fontWeight="bold">{LEGEND_A_LABELS[k]}</text>
          </g>
        ))}
        <polygon points={fatArrow(817, 1360, 817, 1286, 8, 17, 24)} fill={ARROW_DARK} />
        <g {...txt} {...heavy("#333")} fontSize={21} textAnchor="middle" dominantBaseline="central">
          <text transform="translate(842,1322) rotate(-90)">Reduced</text>
          <text transform="translate(859,1322) rotate(-90)">Push-off</text>
        </g>
      </svg>
    </div>
  );
}
